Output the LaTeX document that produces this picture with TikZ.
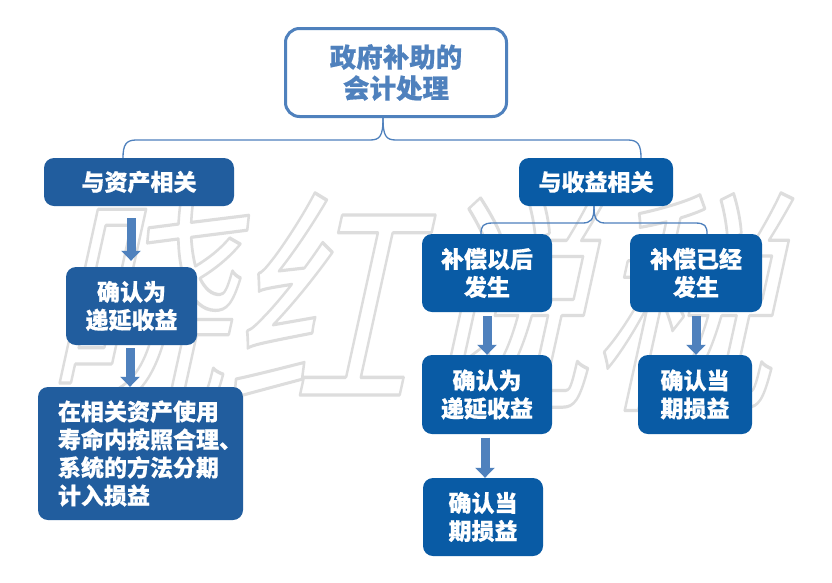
\documentclass[tikz,border=0pt]{standalone}
\usepackage{fontspec}
\newfontfamily\cjk{Noto Sans CJK SC}[BoldFeatures={FakeBold=0.5}]
\newfontfamily\cjkwm{Noto Sans CJK SC}
\usetikzlibrary{arrows.meta,calc}
\definecolor{lineblue}{HTML}{4F81BD}
\definecolor{boxL}{HTML}{215D9E}
\definecolor{boxR}{HTML}{095BA5}
\definecolor{wmgray}{HTML}{DDDDDD}
\tikzset{
  box/.style={rounded corners=10pt, text=white, font=\cjk\bfseries\fontsize{23}{28}\selectfont, align=center, inner sep=0pt},
  lbox/.style={box, fill=boxL},
  rbox/.style={box, fill=boxR},
  barrow/.style={draw=lineblue, line width=9pt, -{Triangle[width=19pt,length=10pt]}},
  conn/.style={draw=lineblue, line width=1.3pt},
}
\begin{document}
\begin{tikzpicture}[x=1pt,y=-1pt]
\useasboundingbox[fill=white] (0,0) rectangle (832,582);
% watermark
\node[text=wmgray, font=\cjkwm\fontsize{182}{182}\selectfont, xslant=0.22, yscale=1.3, transform shape, inner sep=0pt] (wm) at (428,302)
  {\special{pdf:literal direct 1 Tr 2.5 w 1 j}晓红说税\special{pdf:literal direct 0 Tr}};
% title
\node[draw=lineblue, line width=3pt, fill=white, rounded corners=14pt, minimum width=221pt, minimum height=88pt,
  text=lineblue, font=\cjk\bfseries\fontsize{26.5}{31}\selectfont, align=center, inner sep=0pt] (top) at (396,72.5) {政府补助的\\会计处理};
% left column
\node[lbox, minimum width=190pt, minimum height=48pt] (L1) at (139,182) {与资产相关};
\node[lbox, minimum width=131pt, minimum height=78pt] (L2) at (131.5,306) {确认为\\递延收益};
\node[lbox, minimum width=205pt, minimum height=133pt, text width=165pt, inner xsep=20pt, align=left] (L3) at (140.5,453.5)
  {在相关资产使用\\寿命内按照合理、\\系统的方法分期\\计入损益};
% right column
\node[rbox, minimum width=154pt, minimum height=48pt] (R1) at (596,182) {与收益相关};
\node[rbox, minimum width=130pt, minimum height=78pt] (R2) at (487,273) {补偿以后\\发生};
\node[rbox, minimum width=132pt, minimum height=78pt] (R3) at (696,273) {补偿已经\\发生};
\node[rbox, minimum width=130pt, minimum height=79pt] (R4) at (487,394.5) {确认为\\递延收益};
\node[rbox, minimum width=120pt, minimum height=78pt] (R5) at (483,517) {确认当\\期损益};
\node[rbox, minimum width=114pt, minimum height=79pt] (R6) at (695,394.5) {确认当\\期损益};
% braces
\coordinate (b1) at ($(top.south)+(-13,0)$);
\draw[conn] (b1) .. controls (383,136) and (380,140) .. (370,140) -- (136,140)
  .. controls (126,140) and (123,145) .. ($(L1.north)+(-16,0)$);
\draw[conn] (b1) .. controls (383,136) and (386,140) .. (396,140) -- (628,140)
  .. controls (638,140) and (641,145) .. ($(R1.north)+(45,0)$);
\coordinate (b2) at ($(R1.south)+(-2,0)$);
\draw[conn] (b2) .. controls (594,220) and (591,223) .. (582,223) -- (493,223)
  .. controls (483,223) and (481,226) .. ($(R2.north)+(-6,0)$);
\draw[conn] (b2) .. controls (594,220) and (597,223) .. (606,223) -- (695,223)
  .. controls (705,223) and (707,226) .. ($(R3.north)+(11,0)$);
% block arrows
\draw[barrow] ($(L1.south)+(-8,12)$) -- ($(L2.north)+(-0.5,-6)$);
\draw[barrow] ($(L2.south)+(-1.5,3)$) -- ($(L3.north)+(-10.5,0)$);
\draw[barrow] ($(R2.south)+(0,4)$) -- (R4.north);
\draw[barrow] ($(R4.south)+(-2,3.5)$) -- ($(R5.north)+(2,0)$);
\draw[barrow] ($(R3.south)+(0,4)$) -- ($(R6.north)+(1,0)$);
\end{tikzpicture}
\end{document}
